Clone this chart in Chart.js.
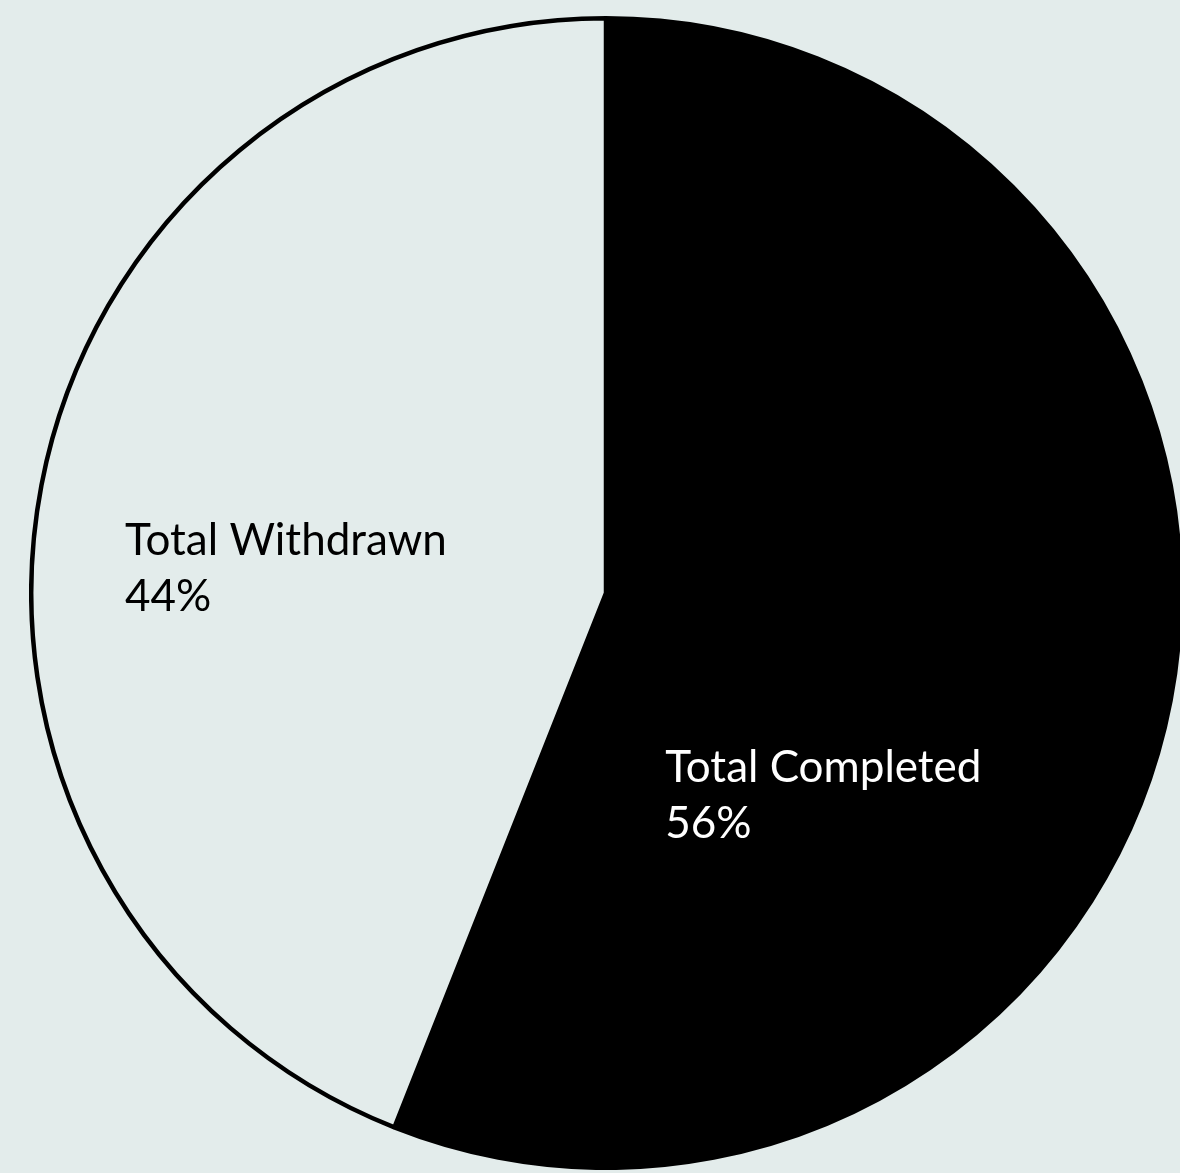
<!DOCTYPE html>
<html>
<head>
<meta charset="utf-8">
<title>Completion status</title>
<script src="https://cdn.jsdelivr.net/npm/chart.js@4.4.1/dist/chart.umd.min.js"></script>
<style>
  html, body { margin: 0; padding: 0; width: 1180px; height: 1173px; overflow: hidden; background: #E3ECEB; }
  #wrap { position: absolute; left: 29px; top: 16px; width: 1154px; height: 1154px; }
</style>
</head>
<body>
<div id="wrap"><canvas id="pie" width="1154" height="1154"></canvas></div>
<script>
// Share of participants by outcome
const categories = ['Total Completed', 'Total Withdrawn'];
const shares = [56, 44];
const sliceColors = ['#000000', '#E3ECEB'];
const textColors = ['#FFFFFF', '#000000'];

// Label anchors, in units of the pie radius from its centre (left edge, first baseline)
const labelAnchors = [[0.103, 0.329], [-0.837, -0.066]];

const sliceLabels = {
  id: 'sliceLabels',
  afterDatasetsDraw(chart) {
    const ctx = chart.ctx;
    const meta = chart.getDatasetMeta(0);
    ctx.save();
    ctx.font = '44px Lato, "Open Sans", sans-serif';
    ctx.textAlign = 'left';
    ctx.textBaseline = 'alphabetic';
    meta.data.forEach((arc, i) => {
      const {x, y, outerRadius} = arc.getProps(['x', 'y', 'outerRadius'], true);
      const lx = x + labelAnchors[i][0] * outerRadius;
      const ly = y + labelAnchors[i][1] * outerRadius;
      ctx.fillStyle = textColors[i];
      ctx.fillText(categories[i], lx, ly);
      ctx.fillText(shares[i] + '%', lx, ly + 56);
    });
    ctx.restore();
  }
};

new Chart(document.getElementById('pie'), {
  type: 'pie',
  data: {
    labels: categories,
    datasets: [{
      data: shares,
      backgroundColor: sliceColors,
      borderColor: '#000000',
      borderWidth: 4.5
    }]
  },
  options: {
    responsive: false,
    animation: false,
    devicePixelRatio: 1,
    layout: { padding: 0 },
    plugins: {
      legend: { display: false },
      tooltip: { enabled: false }
    }
  },
  plugins: [sliceLabels]
});
</script>
</body>
</html>
